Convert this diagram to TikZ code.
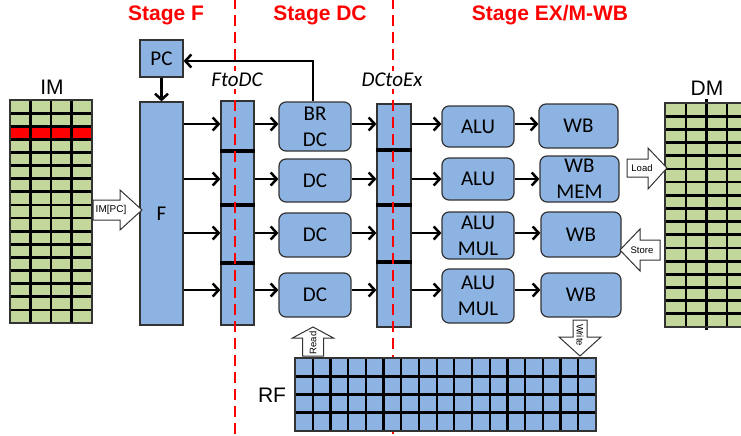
\documentclass[tikz,border=0pt]{standalone}
\usepackage{fontspec}
\setmainfont{Carlito}
\newfontfamily\arialf{Liberation Sans}
\usetikzlibrary{arrows.meta}
\definecolor{boxblue}{HTML}{8DB3E2}
\definecolor{cellgreen}{HTML}{C3D69B}
\definecolor{bordergray}{HTML}{333333}
\tikzset{
  blockbox/.style={draw=bordergray, line width=1.2pt, fill=boxblue, rounded corners=7pt, inner sep=0pt, align=center, font=\fontsize{21}{26}\selectfont},
  plainbox/.style={draw=bordergray, line width=1.2pt, fill=boxblue, inner sep=0pt, align=center, font=\fontsize{21}{24}\selectfont},
  regbox/.style={draw=bordergray, line width=1.2pt, fill=boxblue, inner sep=0pt},
  arr/.style={draw=black, line width=2.5pt, -{Straight Barb[length=6pt,width=13pt,line width=2.5pt]}},
  stagelbl/.style={text=red, font=\arialf\bfseries\fontsize{21}{24}\selectfont},
  reglbl/.style={fill=white, inner sep=2pt, font=\itshape\fontsize{21}{24}\selectfont},
  memlbl/.style={font=\arialf\fontsize{21}{24}\selectfont},
  fatarrow/.style={draw=bordergray, line width=1pt, fill=white},
  smalllbl/.style={font=\arialf\fontsize{9.5}{11}\selectfont, inner sep=0pt},
  stagedash/.style={draw=red, line width=2.4pt, dash pattern=on 11pt off 6pt},
  divider/.style={draw=black, line width=3.5pt},
  gridh/.style={draw=black, line width=2.8pt},
  gridv/.style={draw=black, line width=2.2pt}
}
\begin{document}
\begin{tikzpicture}[x=1pt,y=-1pt]
\useasboundingbox (0,0) rectangle (741,436);

% ---------- IM grid ----------
\fill[cellgreen] (10,100) rectangle (92,323);
\fill[red] (10,126.2) rectangle (92,139.3);
\foreach \i in {1,...,16} {
  \draw[gridh] (10,{100+\i*13.12}) -- (92,{100+\i*13.12});
}
\foreach \x in {30.5,51,71.5} {
  \draw[gridv] (\x,100) -- (\x,323);
}
\draw[bordergray, line width=1.2pt] (10,100) rectangle (92,323);
\node[memlbl] (IMlbl) at (52,87) {IM};

% ---------- DM grid ----------
\fill[cellgreen] (665,103) rectangle (745,327);
\foreach \i in {1,...,16} {
  \draw[gridh] (665,{103+\i*13.18}) -- (745,{103+\i*13.18});
}
\foreach \x in {685.7,727.1} {
  \draw[gridv] (\x,103) -- (\x,327);
}
\draw[gridv] (706.4,99) -- (706.4,330);
\draw[bordergray, line width=1.2pt] (745,103) -- (665,103) -- (665,327) -- (745,327);
\node[memlbl] (DMlbl) at (707,88) {DM};

% ---------- registers ----------
\node[regbox, minimum width=33pt, minimum height=224pt] (FD) at (237.5,213) {};
\node[regbox, minimum width=34pt, minimum height=223pt] (DE) at (394,215.5) {};
\foreach \y in {151,205,263} { \draw[divider] (FD.west |- 0,\y) -- (FD.east |- 0,\y); }
\foreach \y in {150,205,262} { \draw[divider] (DE.west |- 0,\y) -- (DE.east |- 0,\y); }

% ---------- stage boundaries ----------
\draw[stagedash] (235,-2) -- (235,436);
\draw[stagedash] (393,-2) -- (393,436);

\node[stagelbl] (sF) at (166,15) {Stage F};
\node[stagelbl] (sDC) at (320,15) {Stage DC};
\node[stagelbl] (sEX) at (550,15) {Stage EX/M-WB};

\node[reglbl] (FDlbl) at (237,80) {FtoDC};
\node[reglbl] (DElbl) at (392,80) {DCtoEx};

% ---------- RF grid ----------
\fill[boxblue] (295,358) rectangle (596,431);
\foreach \i in {1,...,3} {
  \draw[gridh] (295,{358+\i*18.25}) -- (596,{358+\i*18.25});
}
\foreach \i in {1,...,16} {
  \draw[gridv] ({295+\i*17.706},358) -- ({295+\i*17.706},431);
}
\draw[bordergray, line width=1.2pt] (295,358) rectangle (596,431);
\node[memlbl] (RFlbl) at (272,395) {RF};

% ---------- PC and F ----------
\node[plainbox, minimum width=43pt, minimum height=37pt] (PC) at (161.5,58.5) {PC};
\node[plainbox, minimum width=43pt, minimum height=223pt] (F) at (161.5,213.5) {F};

% ---------- DC boxes ----------
\node[blockbox, minimum width=72pt, minimum height=49pt] (DC1) at (315,126.5) {BR\\DC};
\node[blockbox, minimum width=72pt, minimum height=43pt] (DC2) at (315,180.5) {DC};
\node[blockbox, minimum width=72pt, minimum height=44pt] (DC3) at (315,235) {DC};
\node[blockbox, minimum width=72pt, minimum height=44pt] (DC4) at (315,295) {DC};

% ---------- ALU boxes ----------
\node[blockbox, minimum width=72pt, minimum height=41pt] (EX1) at (478,126.5) {ALU};
\node[blockbox, minimum width=72pt, minimum height=42pt] (EX2) at (478,179) {ALU};
\node[blockbox, minimum width=72pt, minimum height=47pt] (EX3) at (478,235.5) {ALU\\MUL};
\node[blockbox, minimum width=72pt, minimum height=54pt] (EX4) at (478,296) {ALU\\MUL};

% ---------- WB boxes ----------
\node[blockbox, minimum width=79pt, minimum height=44pt] (WB1) at (578.5,126) {WB};
\node[blockbox, minimum width=79pt, minimum height=46pt] (WB2) at (579.5,179) {WB\\MEM};
\node[blockbox, minimum width=80pt, minimum height=45pt] (WB3) at (581,234.5) {WB};
\node[blockbox, minimum width=80pt, minimum height=44pt] (WB4) at (581,295) {WB};

% ---------- row arrows ----------
\coordinate (r1) at (0,124);
\coordinate (r2) at (0,179);
\coordinate (r3) at (0,233);
\coordinate (r4) at (0,290);
\foreach \r/\d/\e/\w in {r1/DC1/EX1/WB1, r2/DC2/EX2/WB2, r3/DC3/EX3/WB3, r4/DC4/EX4/WB4} {
  \draw[arr] (F.east |- \r) -- (FD.west |- \r);
  \draw[arr] (FD.east |- \r) -- (\d.west |- \r);
  \draw[arr] (\d.east |- \r) -- (DE.west |- \r);
  \draw[arr] (DE.east |- \r) -- (\e.west |- \r);
  \draw[arr] (\e.east |- \r) -- (\w.west |- \r);
}

% ---------- PC paths ----------
\draw[arr] (PC.south) -- (F.north);
\coordinate (fb) at (313,61);
\draw[arr] (DC1.north -| fb) -- (fb) -- (PC.east |- fb);

% ---------- block arrows ----------
% IM[PC] -> F
\draw[fatarrow] (93,200) -- (120,200) -- (120,190) -- (142,210) -- (120,230) -- (120,220) -- (93,220) -- cycle;
\node[smalllbl, font=\arialf\fontsize{10}{12}\selectfont] (impc) at (111,210) {IM[PC]};
% Load -> DM
\draw[fatarrow] (627,159) -- (648,159) -- (648,148) -- (667,168) -- (648,189) -- (648,177) -- (627,177) -- cycle;
\node[smalllbl] (load) at (642,168) {Load};
% Store <- DM
\draw[fatarrow] (660,240) -- (640,240) -- (640,229) -- (620,250) -- (640,271) -- (640,260) -- (660,260) -- cycle;
\node[smalllbl] (store) at (642,250) {Store};
% Read (RF -> DC)
\draw[fatarrow] (302.5,356) -- (302.5,338) -- (292.5,338) -- (313,327) -- (333.5,338) -- (323.5,338) -- (323.5,356) -- cycle;
\node[smalllbl, rotate=90] (read) at (313,343) {Read};
% Write (WB -> RF)
\draw[fatarrow] (573,320) -- (573,337) -- (559,337) -- (580,356) -- (601,337) -- (587,337) -- (587,320) -- cycle;
\node[smalllbl, rotate=-90] (write) at (580,335) {Write};
\end{tikzpicture}
\end{document}
